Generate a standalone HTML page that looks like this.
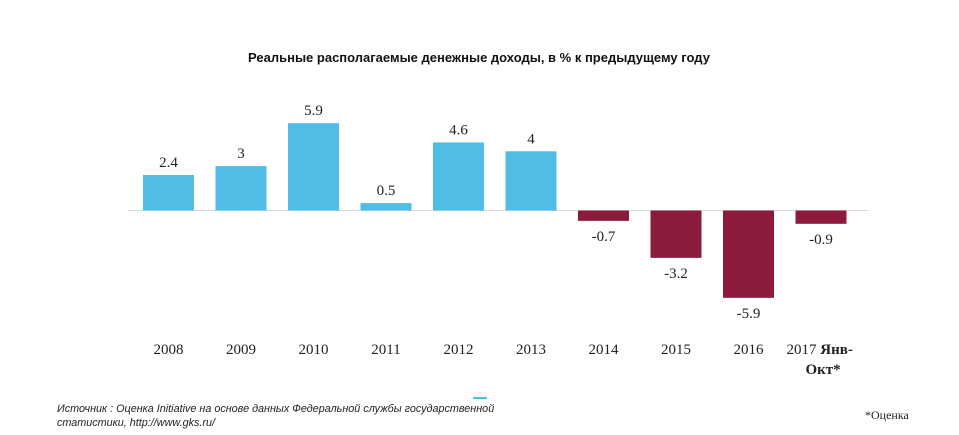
<!DOCTYPE html>
<html><head><meta charset="utf-8"><style>
body{margin:0;background:#fff;}
svg{display:block;}
</style></head><body>
<svg width="959" height="435" viewBox="0 0 959 435" xmlns="http://www.w3.org/2000/svg">
<text x="479" y="62" text-anchor="middle" font-family="Liberation Sans, sans-serif" font-weight="bold" font-size="13" fill="#111">Реальные располагаемые денежные доходы, в % к предыдущему  году</text>
<line x1="128" y1="210.5" x2="868" y2="210.5" stroke="#d9d9d9" stroke-width="1"/>
<g id="bars"></g>
<rect x="473" y="397" width="14" height="2" fill="#4fbde6"/>
<text font-family="Liberation Sans, sans-serif" font-style="italic" font-size="10.8" fill="#222"><tspan x="57" y="412">Источник : Оценка Initiative на основе данных Федеральной службы государственной</tspan><tspan x="57" y="426">статистики, http://www.gks.ru/</tspan></text>
<text x="865" y="419" font-family="Liberation Serif, serif" font-size="12" fill="#222">*Оценка</text>
</svg>
<script>
const categories=["2008","2009","2010","2011","2012","2013","2014","2015","2016","2017"];
const values=[2.4,3,5.9,0.5,4.6,4,-0.7,-3.2,-5.9,-0.9];
const valueLabels=["2.4","3","5.9","0.5","4.6","4","-0.7","-3.2","-5.9","-0.9"];
const NS="http://www.w3.org/2000/svg";
const zeroY=210.5, unit=14.8, x0=143, step=72.5, bw=51;
const y=v=>zeroY-v*unit;
const g=document.getElementById('bars');
categories.forEach((c,i)=>{
  const v=values[i], x=x0+i*step;
  const r=document.createElementNS(NS,'rect');
  
  
  r.setAttribute('x',x);r.setAttribute('width',bw);
  r.setAttribute('y',Math.min(y(v),zeroY));r.setAttribute('height',Math.abs(v*unit));
  r.setAttribute('fill',v>=0?'#4fbde6':'#8c1a3a');
  g.appendChild(r);
  const t=document.createElementNS(NS,'text');
  
  
  t.setAttribute('x',x+bw/2);
  t.setAttribute('y',v>=0?y(v)-8:y(v)+20);
  t.setAttribute('text-anchor','middle');
  t.setAttribute('font-family','Liberation Serif, serif');t.setAttribute('font-size','15');t.setAttribute('fill','#222');
  t.textContent=valueLabels[i];
  g.appendChild(t);
  const l=document.createElementNS(NS,'text');
  
  
  l.setAttribute('y',354);
  l.setAttribute('font-family','Liberation Serif, serif');l.setAttribute('font-size','15');l.setAttribute('fill','#222');
  if(i===categories.length-1){
    l.setAttribute('x',x-9);
    l.innerHTML=c+' <tspan font-weight="bold">Янв-</tspan><tspan x="'+(x+10)+'" y="374" font-weight="bold">Окт*</tspan>';
  } else {
    l.setAttribute('x',x+bw/2);l.setAttribute('text-anchor','middle');
    l.textContent=c;
  }
  g.appendChild(l);
});
</script>
</body></html>
